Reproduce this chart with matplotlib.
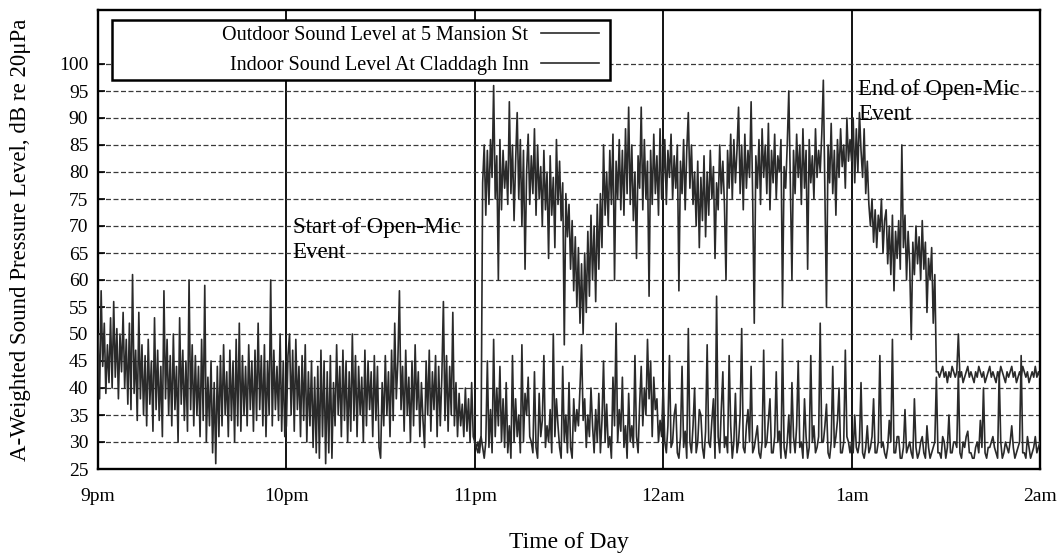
import numpy as np
import matplotlib.pyplot as plt
from matplotlib.patches import Rectangle

plt.rcParams['font.family'] = ['Liberation Serif', 'DejaVu Serif']

# readings every 30 s (one list per hour)
out_9pm = [50, 38, 58, 44, 52, 39, 48, 41, 53, 40, 56, 42, 51, 38, 50, 43, 54, 40, 49, 37,
           52, 36, 61, 39, 47, 34, 54, 38, 48, 35, 46, 33, 49, 37, 45, 32, 53, 36, 47, 34,
           44, 31, 58, 38, 49, 35, 46, 33, 50, 36, 44, 30, 53, 37, 47, 34, 45, 32, 60, 36,
           48, 33, 46, 35, 44, 31, 49, 34, 59, 30, 42, 33, 45, 28, 41, 26, 44, 31, 46, 33,
           48, 35, 43, 31, 47, 34, 45, 30, 49, 33, 52, 32, 46, 35, 44, 33, 48, 36, 45, 32,
           47, 34, 52, 36, 46, 33, 48, 31, 45, 35, 60, 33, 47, 36, 44, 34, 50, 32, 45, 31]
out_10pm = [33, 46, 50, 35, 47, 32, 49, 36, 44, 31, 46, 34, 48, 30, 43, 33, 45, 29, 42, 28,
            44, 27, 47, 31, 45, 26, 43, 28, 46, 27, 41, 33, 48, 35, 44, 31, 47, 34, 45, 30,
            43, 32, 50, 34, 46, 31, 44, 35, 42, 30, 47, 33, 45, 36, 43, 31, 46, 34, 44, 29,
            27, 41, 33, 46, 35, 43, 31, 47, 34, 52, 38, 45, 58, 36, 44, 32, 47, 35, 42, 30,
            45, 33, 48, 36, 43, 31, 41, 34, 29, 45, 35, 47, 32, 43, 36, 46, 31, 44, 33, 42,
            56, 34, 46, 32, 44, 35, 54, 33, 41, 31, 39, 33, 37, 31, 40, 32, 38, 30, 41, 31]
out_11pm = [30, 29, 28, 30, 31, 29, 27, 30, 45, 29, 36, 28, 49, 31, 40, 33, 44, 30, 38, 29,
            41, 28, 33, 27, 46, 30, 38, 31, 35, 28, 48, 30, 39, 35, 42, 31, 30, 28, 43, 29,
            27, 39, 31, 34, 46, 29, 33, 30, 36, 28, 50, 31, 38, 33, 29, 27, 44, 30, 35, 28,
            41, 29, 27, 38, 32, 36, 33, 40, 48, 34, 38, 29, 35, 31, 40, 33, 28, 36, 30, 39,
            28, 34, 45, 30, 37, 29, 31, 27, 42, 33, 52, 30, 36, 32, 42, 29, 33, 27, 39, 30,
            33, 29, 46, 31, 28, 37, 44, 33, 40, 35, 49, 38, 45, 31, 42, 36, 38, 30, 34, 31]
out_12am = [41, 30, 28, 33, 46, 29, 30, 35, 37, 28, 27, 31, 44, 29, 32, 27, 51, 30, 28, 33,
            40, 28, 30, 36, 35, 29, 27, 32, 48, 30, 29, 34, 38, 27, 57, 31, 28, 36, 43, 29,
            31, 28, 46, 33, 27, 30, 39, 28, 30, 35, 51, 29, 28, 33, 36, 30, 44, 28, 29, 31,
            33, 28, 27, 30, 47, 29, 30, 34, 38, 28, 28, 31, 43, 30, 32, 27, 49, 29, 27, 30,
            35, 28, 41, 31, 28, 33, 45, 29, 30, 27, 38, 31, 27, 29, 46, 30, 33, 28, 29, 31,
            52, 30, 30, 33, 37, 28, 27, 30, 44, 29, 31, 34, 40, 28, 28, 30, 47, 31, 30, 28]
out_1am = [30, 28, 35, 29, 28, 30, 41, 28, 27, 29, 33, 28, 29, 31, 38, 28, 28, 30, 46, 29,
           30, 28, 27, 29, 34, 30, 49, 28, 28, 31, 31, 27, 27, 29, 36, 28, 29, 30, 28, 27,
           38, 29, 27, 28, 30, 31, 28, 27, 33, 29, 27, 28, 29, 30, 42, 28, 28, 27, 31, 30,
           27, 29, 35, 28, 28, 30, 30, 29, 43, 28, 27, 30, 29, 31, 32, 28, 28, 27, 27, 29,
           30, 28, 34, 29, 40, 28, 27, 29, 29, 30, 31, 29, 28, 27, 43, 30, 27, 28, 30, 29,
           28, 30, 33, 29, 27, 28, 29, 30, 46, 28, 28, 27, 31, 29, 27, 28, 29, 31, 28, 29, 30]

in_11pm = [30, 29, 30, 28, 31, 78, 85, 72, 84, 74, 86, 79, 96, 75, 83, 60, 86, 73, 84, 77,
           82, 74, 93, 76, 85, 71, 82, 91, 75, 86, 70, 84, 62, 80, 87, 74, 83, 76, 88, 72,
           85, 75, 81, 70, 84, 73, 80, 64, 83, 72, 79, 66, 86, 74, 82, 71, 78, 48, 76, 68,
           74, 62, 71, 58, 68, 55, 66, 52, 63, 50, 65, 54, 69, 57, 72, 60, 70, 56, 74, 62,
           76, 66, 85, 72, 80, 70, 84, 74, 87, 60, 82, 75, 86, 73, 84, 72, 88, 76, 92, 74,
           85, 71, 80, 64, 83, 77, 92, 73, 86, 75, 82, 57, 84, 74, 87, 76, 83, 72, 88, 75]
in_12am = [78, 86, 74, 84, 79, 87, 75, 83, 77, 85, 58, 82, 76, 86, 73, 84, 91, 77, 85, 74,
           80, 70, 82, 66, 79, 71, 83, 68, 80, 72, 84, 75, 81, 64, 78, 73, 85, 76, 82, 74,
           60, 84, 77, 87, 75, 86, 78, 84, 92, 76, 85, 73, 87, 77, 84, 79, 93, 75, 52, 83,
           77, 86, 74, 88, 79, 85, 76, 89, 73, 84, 78, 87, 75, 83, 80, 86, 55, 81, 77, 85,
           95, 78, 60, 84, 76, 87, 79, 85, 74, 88, 77, 84, 62, 86, 78, 83, 75, 88, 79, 84,
           80, 87, 97, 76, 55, 85, 78, 89, 76, 84, 72, 86, 79, 88, 81, 85, 77, 90, 82, 86]
in_1am = [82, 90, 78, 88, 80, 91, 84, 79, 88, 76, 82, 74, 70, 75, 67, 73, 66, 72, 69, 75,
          65, 71, 73, 63, 70, 61, 72, 58, 69, 64, 71, 62, 85, 66, 72, 60, 69, 63, 49, 67,
          61, 70, 63, 68, 60, 71, 62, 67, 54, 64, 60, 66, 52, 61, 43, 43, 42, 43, 44, 42,
          43, 41, 43, 42, 44, 43, 42, 43, 50, 42, 43, 41, 42, 43, 44, 42, 43, 42, 41, 43,
          42, 44, 43, 42, 43, 41, 42, 43, 44, 42, 43, 42, 41, 43, 42, 44, 43, 42, 41, 43,
          42, 43, 44, 42, 43, 41, 42, 43, 42, 44, 43, 42, 43, 41, 42, 43, 42, 44, 42, 43, 42]

tick_labels = ['9pm', '10pm', '11pm', '12am', '1am', '2am']


def hour_times(vals, start, last=False):
    # spread one hour's readings over that hour (minutes after 9pm)
    if last:
        return np.linspace(start, start + 60, len(vals))
    return np.linspace(start, start + 60, len(vals), endpoint=False)


outdoor = np.array(out_9pm + out_10pm + out_11pm + out_12am + out_1am, dtype=float)
t_out = np.concatenate([hour_times(out_9pm, 0), hour_times(out_10pm, 60),
                        hour_times(out_11pm, 120), hour_times(out_12am, 180),
                        hour_times(out_1am, 240, last=True)])
indoor = np.array(in_11pm + in_12am + in_1am, dtype=float)
t_in = np.concatenate([hour_times(in_11pm, 120), hour_times(in_12am, 180),
                       hour_times(in_1am, 240, last=True)])

fig = plt.figure(figsize=(10.59, 5.56), dpi=100)
ax = fig.add_axes([98/1059, 1-469/556, 942/1059, 459/556])

col = '#2a2a2a'
ax.plot(t_out, outdoor, color=col, lw=1.2, zorder=3, label='Outdoor Sound Level at 5 Mansion St')
ax.plot(t_in, indoor, color=col, lw=1.2, zorder=3, label='Indoor Sound Level At Claddagh Inn')

ax.set_xlim(0, 300)
ax.set_ylim(25, 110)
ax.set_xticks(np.arange(0, 301, 60))
ax.set_xticklabels(tick_labels)
ax.set_yticks(np.arange(25, 101, 5))
ax.tick_params(direction='in', length=5, width=1.2, labelsize=14, pad=7)
ax.tick_params(axis='x', length=0, pad=14)

ax.grid(axis='y', color='#3a3a3a', ls=(0, (4, 2)), lw=0.9, zorder=1)
ax.grid(axis='x', color='black', ls='-', lw=1.3, zorder=1)
for s in ax.spines.values():
    s.set_linewidth(1.7)

ax.set_xlabel('Time of Day', fontsize=17, labelpad=19)
ax.set_ylabel('A-Weighted Sound Pressure Level, dB re 20μPa', fontsize=16.5, labelpad=20)

ax.text(62, 67.5, 'Start of Open-Mic\nEvent', fontsize=16.5, va='center', ha='left',
        linespacing=1.25, zorder=4)
ax.text(242, 93, 'End of Open-Mic\nEvent', fontsize=16.5, va='center', ha='left',
        linespacing=1.25, zorder=4)

# legend box is much wider than its entries in the original
box = Rectangle((14/942, 389/459), 498/942, 60/459, transform=ax.transAxes,
                facecolor='white', edgecolor='black', lw=1.8, zorder=5)
ax.add_patch(box)
leg = ax.legend(loc='upper right', bbox_to_anchor=(515/942, 457/459), markerfirst=False,
                frameon=False, fontsize=14.5, handlelength=2.9, handletextpad=0.6,
                borderpad=0.2, labelspacing=0.55)
leg.set_zorder(6)
for t in leg.get_texts():
    t.set_ha('right')

fig.savefig('out.png', dpi=100)
